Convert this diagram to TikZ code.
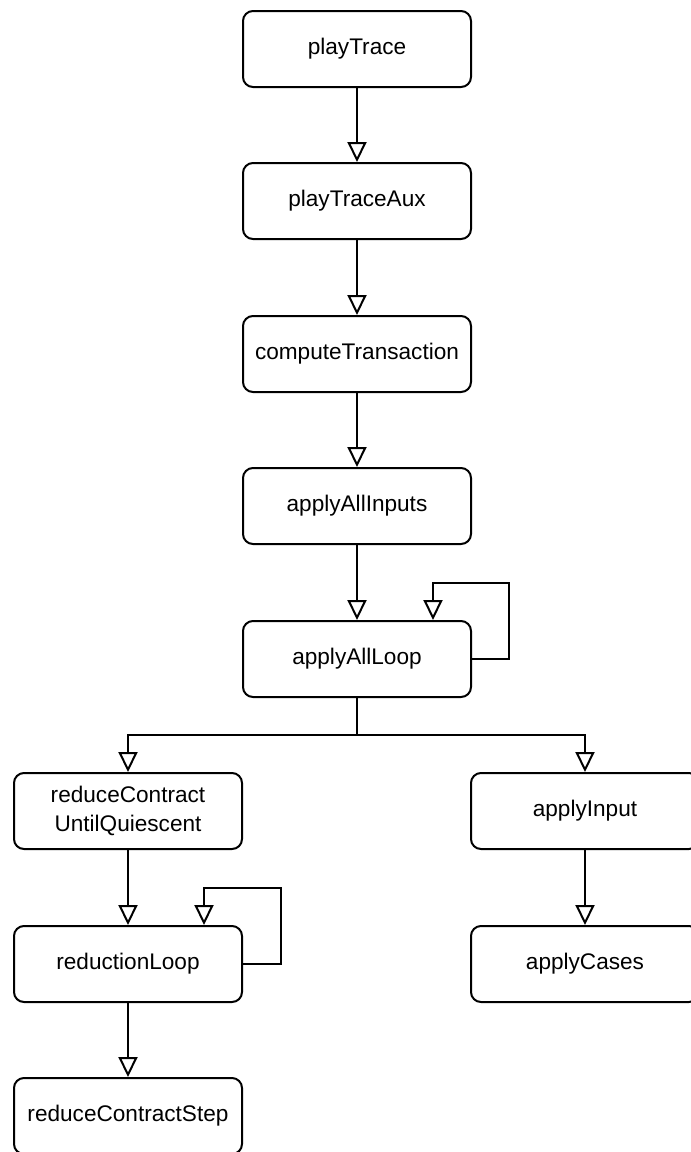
\documentclass[tikz,border=0pt]{standalone}
\usepackage{fontspec}
\setmainfont{Liberation Sans}
\usetikzlibrary{arrows.meta}
\tikzset{
  fn/.style={draw, line width=2pt, rounded corners=10pt, minimum width=228pt, minimum height=76pt,
    inner sep=0pt, align=center, font=\fontsize{22.6}{28.5}\selectfont, fill=white},
  arr/.style={line width=2pt, -{Triangle[open, length=20pt, width=19pt, fill=white]}},
  ln/.style={line width=2pt}
}
\begin{document}
\begin{tikzpicture}[x=1pt,y=-1pt]
\useasboundingbox (0,0) rectangle (691,1152);
\clip (0,0) rectangle (691,1152);
\fill[white] (0,0) rectangle (691,1152);
\node[fn] (pt) at (357,49) {playTrace};
\node[fn] (pta) at (357,201) {playTraceAux};
\node[fn] (ct) at (357,354) {computeTransaction};
\node[fn] (aai) at (357,506) {applyAllInputs};
\node[fn] (aal) at (357,659) {applyAllLoop};
\node[fn] (rcuq) at (128,811) {reduceContract\\UntilQuiescent};
\node[fn] (ai) at (585,811) {applyInput};
\node[fn] (rl) at (128,964) {reductionLoop};
\node[fn] (ac) at (585,964) {applyCases};
\node[fn] (rcs) at (128,1116) {reduceContractStep};
\coordinate (loopA) at (509,583);
\coordinate (loopB) at (281,888);
\coordinate (sp) at (357,735);
\draw[arr] (pt.south) -- (pta.north);
\draw[arr] (pta.south) -- (ct.north);
\draw[arr] (ct.south) -- (aai.north);
\draw[arr] (aai.south) -- (aal.north);
\draw[arr] (aal.east) -| (loopA) -| ([xshift=76pt]aal.north);
\draw[ln] (aal.south) -- (sp);
\draw[arr] (sp) -| (rcuq.north);
\draw[arr] (sp) -| (ai.north);
\draw[arr] (rcuq.south) -- (rl.north);
\draw[arr] (rl.east) -| (loopB) -| ([xshift=76pt]rl.north);
\draw[arr] (ai.south) -- (ac.north);
\draw[arr] (rl.south) -- (rcs.north);
\end{tikzpicture}
\end{document}
